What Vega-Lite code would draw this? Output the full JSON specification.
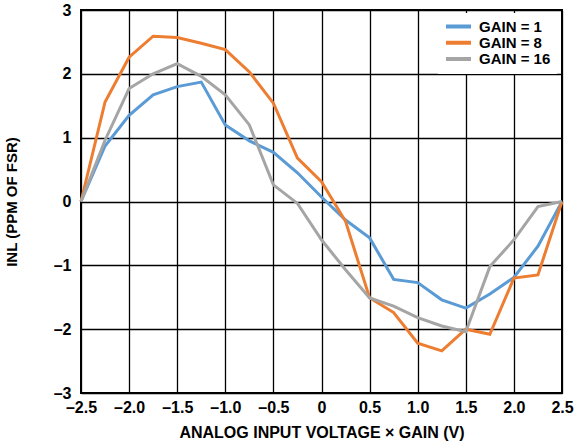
{
  "$schema": "https://vega.github.io/schema/vega-lite/v6.json",
  "width": 481,
  "height": 383,
  "autosize": {"type": "none"},
  "padding": {"left": 81, "top": 10, "right": 24, "bottom": 55},
  "background": "white",
  "config": {
    "font": "Liberation Sans",
    "view": {"stroke": "black", "strokeWidth": 2},
    "axis": {
      "labelFont": "Liberation Sans",
      "labelFontWeight": "bold",
      "labelFontSize": 16,
      "labelColor": "black",
      "titleFont": "Liberation Sans",
      "titleFontWeight": "bold",
      "titleFontSize": 16,
      "titleColor": "black",
      "grid": true,
      "gridColor": "black",
      "gridWidth": 1.3,
      "gridOpacity": 1,
      "ticks": false,
      "domain": false,
      "labelFlush": false,
      "labelOverlap": false,
      "labelBound": false
    }
  },
  "datasets": {
    "inl": [
      {"v": -2.5, "g": "GAIN = 1", "inl": 0},
      {"v": -2.25, "g": "GAIN = 1", "inl": 0.87},
      {"v": -2.0, "g": "GAIN = 1", "inl": 1.35},
      {"v": -1.75, "g": "GAIN = 1", "inl": 1.67},
      {"v": -1.5, "g": "GAIN = 1", "inl": 1.8},
      {"v": -1.25, "g": "GAIN = 1", "inl": 1.87},
      {"v": -1.0, "g": "GAIN = 1", "inl": 1.2},
      {"v": -0.75, "g": "GAIN = 1", "inl": 0.95},
      {"v": -0.5, "g": "GAIN = 1", "inl": 0.77},
      {"v": -0.25, "g": "GAIN = 1", "inl": 0.45},
      {"v": 0.0, "g": "GAIN = 1", "inl": 0.07},
      {"v": 0.25, "g": "GAIN = 1", "inl": -0.29},
      {"v": 0.5, "g": "GAIN = 1", "inl": -0.57},
      {"v": 0.75, "g": "GAIN = 1", "inl": -1.22},
      {"v": 1.0, "g": "GAIN = 1", "inl": -1.27},
      {"v": 1.25, "g": "GAIN = 1", "inl": -1.54},
      {"v": 1.5, "g": "GAIN = 1", "inl": -1.67},
      {"v": 1.75, "g": "GAIN = 1", "inl": -1.45},
      {"v": 2.0, "g": "GAIN = 1", "inl": -1.19},
      {"v": 2.25, "g": "GAIN = 1", "inl": -0.7},
      {"v": 2.5, "g": "GAIN = 1", "inl": 0},
      {"v": -2.5, "g": "GAIN = 8", "inl": 0},
      {"v": -2.25, "g": "GAIN = 8", "inl": 1.56},
      {"v": -2.0, "g": "GAIN = 8", "inl": 2.26},
      {"v": -1.75, "g": "GAIN = 8", "inl": 2.59},
      {"v": -1.5, "g": "GAIN = 8", "inl": 2.57},
      {"v": -1.25, "g": "GAIN = 8", "inl": 2.48},
      {"v": -1.0, "g": "GAIN = 8", "inl": 2.38},
      {"v": -0.75, "g": "GAIN = 8", "inl": 2.03},
      {"v": -0.5, "g": "GAIN = 8", "inl": 1.54},
      {"v": -0.25, "g": "GAIN = 8", "inl": 0.68},
      {"v": 0.0, "g": "GAIN = 8", "inl": 0.31},
      {"v": 0.25, "g": "GAIN = 8", "inl": -0.31},
      {"v": 0.5, "g": "GAIN = 8", "inl": -1.51},
      {"v": 0.75, "g": "GAIN = 8", "inl": -1.74},
      {"v": 1.0, "g": "GAIN = 8", "inl": -2.22},
      {"v": 1.25, "g": "GAIN = 8", "inl": -2.34},
      {"v": 1.5, "g": "GAIN = 8", "inl": -2.0},
      {"v": 1.75, "g": "GAIN = 8", "inl": -2.08},
      {"v": 2.0, "g": "GAIN = 8", "inl": -1.2},
      {"v": 2.25, "g": "GAIN = 8", "inl": -1.15},
      {"v": 2.5, "g": "GAIN = 8", "inl": 0},
      {"v": -2.5, "g": "GAIN = 16", "inl": 0},
      {"v": -2.25, "g": "GAIN = 16", "inl": 0.96},
      {"v": -2.0, "g": "GAIN = 16", "inl": 1.77},
      {"v": -1.75, "g": "GAIN = 16", "inl": 2.0},
      {"v": -1.5, "g": "GAIN = 16", "inl": 2.16},
      {"v": -1.25, "g": "GAIN = 16", "inl": 1.96},
      {"v": -1.0, "g": "GAIN = 16", "inl": 1.67},
      {"v": -0.75, "g": "GAIN = 16", "inl": 1.2},
      {"v": -0.5, "g": "GAIN = 16", "inl": 0.26},
      {"v": -0.25, "g": "GAIN = 16", "inl": -0.03},
      {"v": 0.0, "g": "GAIN = 16", "inl": -0.6},
      {"v": 0.25, "g": "GAIN = 16", "inl": -1.07},
      {"v": 0.5, "g": "GAIN = 16", "inl": -1.51},
      {"v": 0.75, "g": "GAIN = 16", "inl": -1.64},
      {"v": 1.0, "g": "GAIN = 16", "inl": -1.82},
      {"v": 1.25, "g": "GAIN = 16", "inl": -1.95},
      {"v": 1.5, "g": "GAIN = 16", "inl": -2.04},
      {"v": 1.75, "g": "GAIN = 16", "inl": -1.02},
      {"v": 2.0, "g": "GAIN = 16", "inl": -0.6},
      {"v": 2.25, "g": "GAIN = 16", "inl": -0.08},
      {"v": 2.5, "g": "GAIN = 16", "inl": 0}
    ]
  },
  "data": {"name": "inl"},
  "mark": {"type": "line", "strokeWidth": 3, "strokeJoin": "miter"},
  "encoding": {
    "x": {
      "field": "v",
      "type": "quantitative",
      "scale": {"domain": [-2.5, 2.5], "nice": false, "zero": false},
      "axis": {
        "values": [-2.5, -2, -1.5, -1, -0.5, 0, 0.5, 1, 1.5, 2, 2.5],
        "labelExpr": "datum.value == 0 ? '0' : replace(format(datum.value, '.1f'), '−', '–')",
        "labelPadding": 6,
        "title": "ANALOG INPUT VOLTAGE × GAIN (V)",
        "titlePadding": 9
      }
    },
    "y": {
      "field": "inl",
      "type": "quantitative",
      "scale": {"domain": [-3, 3], "nice": false},
      "axis": {
        "values": [-3, -2, -1, 0, 1, 2, 3],
        "labelExpr": "replace(format(datum.value, 'd'), '−', '–')",
        "labelPadding": 10,
        "title": "INL (PPM OF FSR)",
        "titleFontSize": 15,
        "titlePadding": 34
      }
    },
    "color": {
      "field": "g",
      "type": "nominal",
      "sort": ["GAIN = 1", "GAIN = 8", "GAIN = 16"],
      "scale": {
        "domain": ["GAIN = 1", "GAIN = 8", "GAIN = 16"],
        "range": ["#5B9BD5", "#ED7D31", "#A5A5A5"]
      },
      "legend": {
        "title": null,
        "orient": "none",
        "legendX": 357,
        "legendY": 3,
        "padding": 6,
        "fillColor": "white",
        "strokeColor": null,
        "symbolType": "stroke",
        "symbolSize": 625,
        "symbolStrokeWidth": 4,
        "clipHeight": 15,
        "rowPadding": 0.3,
        "labelOffset": 6,
        "labelFont": "Liberation Sans",
        "labelFontWeight": "bold",
        "labelFontSize": 15,
        "labelColor": "black"
      }
    }
  }
}
